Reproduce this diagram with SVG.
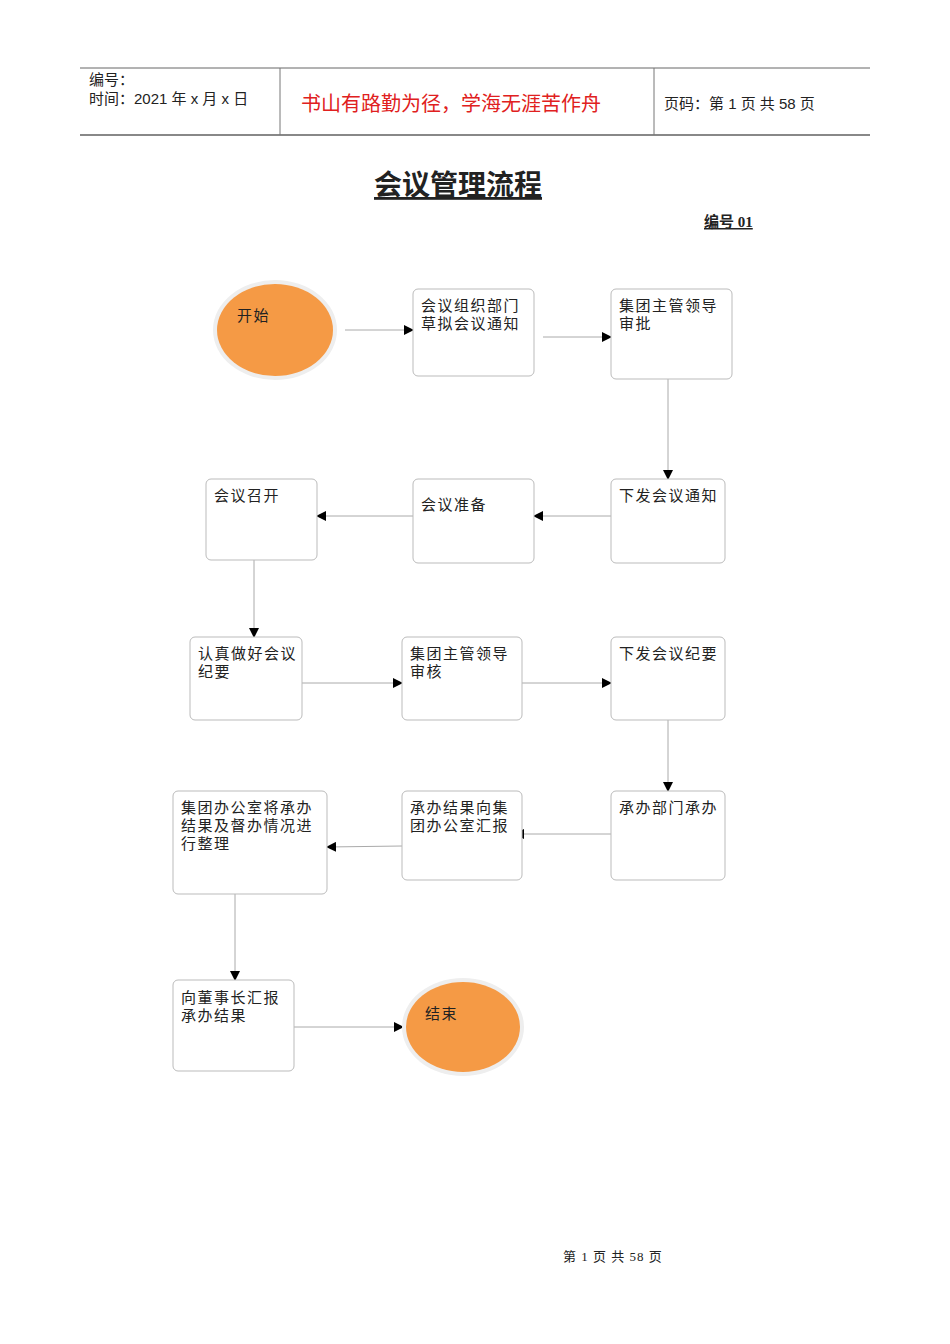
<svg xmlns="http://www.w3.org/2000/svg" width="950" height="1344" viewBox="0 0 950 1344">
<style>
text{font-family:"Liberation Serif","Noto Sans CJK SC",serif;fill:#222}
.n{font-size:15px;letter-spacing:1.5px}
.box{fill:#fff;stroke:#bbb;stroke-width:1}
.c line{stroke:#aaa;stroke-width:1;marker-end:url(#a)}
.h{font-family:"Liberation Sans","Noto Sans CJK SC",sans-serif;font-size:15px}
</style>
<defs><marker id="a" markerWidth="10" markerHeight="10" refX="9" refY="5" orient="auto" markerUnits="userSpaceOnUse"><path d="M0,0L10,5L0,10Z" fill="#000"/></marker></defs>
<rect width="950" height="1344" fill="#fff"/>
<g id="header">
<line x1="80" y1="68" x2="870" y2="68" stroke="#666"/>
<line x1="80" y1="135" x2="870" y2="135" stroke="#888" stroke-width="2"/>
<line x1="280" y1="68" x2="280" y2="135" stroke="#777"/>
<line x1="654" y1="68" x2="654" y2="135" stroke="#777"/>
<text class="h" x="89" y="85">编号：</text>
<text class="h" x="89" y="104">时间：2021 年 x 月 x 日</text>
<text x="301" y="111" style="font-family:'Noto Sans CJK SC',sans-serif;font-size:20px;fill:#e02020">书山有路勤为径，学海无涯苦作舟</text>
<text class="h" x="664" y="109">页码：第 1 页  共 58 页</text>
</g>
<text x="374" y="195" style="font-size:28px;font-weight:bold;text-decoration:underline">会议管理流程</text>
<text x="704" y="227" style="font-size:15px;font-weight:bold;text-decoration:underline"> 编号 01</text>
<g class="c">
<line x1="345" y1="330" x2="413" y2="330"/>
<line x1="543" y1="337" x2="611" y2="337"/>
<line x1="668" y1="379" x2="668" y2="479"/>
<line x1="611" y1="516" x2="534" y2="516"/>
<line x1="413" y1="516" x2="317" y2="516"/>
<line x1="254" y1="560" x2="254" y2="637"/>
<line x1="302" y1="683" x2="402" y2="683"/>
<line x1="515" y1="683" x2="611" y2="683"/>
<line x1="668" y1="720" x2="668" y2="791"/>
<line x1="611" y1="834" x2="515" y2="834"/>
<line x1="402" y1="846" x2="327" y2="847"/>
<line x1="235" y1="894" x2="235" y2="980"/>
<line x1="294" y1="1027" x2="403" y2="1027"/>
</g>
<g id="start"><ellipse cx="275" cy="330" rx="62" ry="50" fill="#eee"/><ellipse cx="275" cy="330" rx="58" ry="46" fill="#f59a45"/><text class="n" x="237" y="321">开始</text></g>
<g id="n1"><rect class="box" x="413" y="289" width="121" height="87" rx="5"/><text class="n" x="421" y="311">会议组织部门</text><text class="n" x="421" y="329">草拟会议通知</text></g>
<g id="n2"><rect class="box" x="611" y="289" width="121" height="90" rx="5"/><text class="n" x="619" y="311">集团主管领导</text><text class="n" x="619" y="329">审批</text></g>
<g id="n3"><rect class="box" x="611" y="479" width="114" height="84" rx="5"/><text class="n" x="619" y="501">下发会议通知</text></g>
<g id="n4"><rect class="box" x="413" y="479" width="121" height="84" rx="5"/><text class="n" x="421" y="510">会议准备</text></g>
<g id="n5"><rect class="box" x="206" y="479" width="111" height="81" rx="5"/><text class="n" x="214" y="501">会议召开</text></g>
<g id="n6"><rect class="box" x="190" y="637" width="112" height="83" rx="5"/><text class="n" x="198" y="659">认真做好会议</text><text class="n" x="198" y="677">纪要</text></g>
<g id="n7"><rect class="box" x="402" y="637" width="120" height="83" rx="5"/><text class="n" x="410" y="659">集团主管领导</text><text class="n" x="410" y="677">审核</text></g>
<g id="n8"><rect class="box" x="611" y="637" width="114" height="83" rx="5"/><text class="n" x="619" y="659">下发会议纪要</text></g>
<g id="n9"><rect class="box" x="611" y="791" width="114" height="89" rx="5"/><text class="n" x="619" y="813">承办部门承办</text></g>
<g id="n10"><rect class="box" x="402" y="791" width="120" height="89" rx="5"/><text class="n" x="410" y="813">承办结果向集</text><text class="n" x="410" y="831">团办公室汇报</text></g>
<g id="n11"><rect class="box" x="173" y="791" width="154" height="103" rx="5"/><text class="n" x="181" y="813">集团办公室将承办</text><text class="n" x="181" y="831">结果及督办情况进</text><text class="n" x="181" y="849">行整理</text></g>
<g id="n12"><rect class="box" x="173" y="980" width="121" height="91" rx="5"/><text class="n" x="181" y="1003">向董事长汇报</text><text class="n" x="181" y="1021">承办结果</text></g>
<g id="end"><ellipse cx="463" cy="1027" rx="61" ry="49" fill="#eee"/><ellipse cx="463" cy="1027" rx="57" ry="45" fill="#f59a45"/><text class="n" x="425" y="1019">结束</text></g>
<text x="563" y="1261" style="font-size:13px;letter-spacing:1px">第  1  页  共  58  页</text>
</svg>
